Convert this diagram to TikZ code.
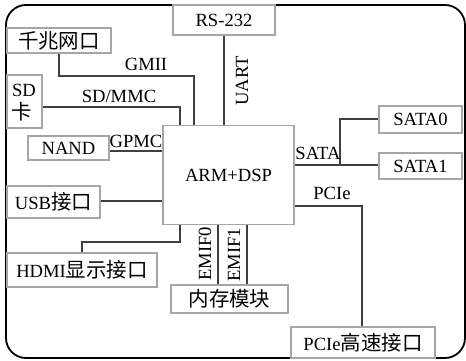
\documentclass[tikz,border=0pt]{standalone}
\usepackage{fontspec}
\setmainfont{Liberation Serif}
\newfontfamily\cjk[Scale=1.1]{Noto Sans CJK SC}
\begin{document}
\begin{tikzpicture}[x=1pt,y=-1pt,
  box/.style={draw=gray!70,line width=1.1pt,fill=white,inner sep=0pt,font=\fontsize{18.6}{20}\selectfont},
  wire/.style={draw=black!75,line width=1.8pt},
  lab/.style={inner sep=0pt,font=\fontsize{18.6}{20}\selectfont}]
\useasboundingbox (0,0) rectangle (466,361);
\draw[line width=1.8pt,rounded corners=20pt] (6,5) rectangle (465,358);
% boxes
\node[box,minimum width=102pt,minimum height=30pt] (rs) at (224,20) {RS-232};
\node[box,minimum width=104pt,minimum height=25pt] (gige) at (59,40.5) {\cjk 千兆网口};
\node[box,minimum width=35pt,minimum height=53pt] (sd) at (24.5,101.5) {};
\node[lab] (sdt1) at (24,90) {SD};
\node[lab] (sdt2) at (22,112) {\cjk 卡};
\node[box,minimum width=81pt,minimum height=24pt] (nand) at (68.5,148) {NAND};
\node[box,minimum width=131pt,minimum height=99pt] (arm) at (228.5,175) {ARM+DSP};
\node[box,minimum width=83pt,minimum height=27pt] (sata0) at (420.5,119.5) {SATA0};
\node[box,minimum width=83pt,minimum height=26pt] (sata1) at (420.5,166) {SATA1};
\node[box,minimum width=93pt,minimum height=32pt] (usb) at (53.5,202) {USB\cjk 接口};
\node[box,minimum width=150pt,minimum height=34pt] (hdmi) at (82,270) {HDMI\cjk 显示接口};
\node[box,minimum width=117pt,minimum height=28pt] (mem) at (229.5,299) {\cjk 内存模块};
\node[box,minimum width=144pt,minimum height=31pt] (pcie) at (363,342.5) {PCIe\cjk 高速接口};
% coordinates
\coordinate (g1) at (59,76);
\coordinate (g2) at (194,76);
\coordinate (s2) at (180,107);
\coordinate (br) at (340,165);
\coordinate (br0) at (340,119);
\coordinate (h1) at (180,242);
\coordinate (h2) at (82,242);
\coordinate (p1) at (362,206);
% wires
\draw[wire] (gige.south -| g1) -- (g1) -- (g2) -- (g2 |- arm.north);
\draw[wire] (sd.east |- s2) -- (s2) -- (s2 |- arm.north);
\draw[wire] (nand.east |- 0,151) -- (arm.west |- 0,151);
\draw[wire] (rs.south) -- (rs.south |- arm.north);
\draw[wire] (arm.east |- br) -- (sata1.west |- br);
\draw[wire] (br) -- (br0) -- (sata0.west |- br0);
\draw[wire] (usb.east |- 0,201) -- (arm.west |- 0,201);
\draw[wire] (h1 |- arm.south) -- (h1) -- (h2) -- (h2 |- hdmi.north);
\draw[wire] (arm.south -| 218,0) -- (mem.north -| 218,0);
\draw[wire] (arm.south -| 247,0) -- (mem.north -| 247,0);
\draw[wire] (arm.east |- p1) -- (p1) -- (p1 |- pcie.north);
% labels
\node[lab] (lgmii) at (146,64) {GMII};
\node[lab] (lsd) at (119,96) {SD/MMC};
\node[lab] (lgpmc) at (136,141) {GPMC};
\node[lab,rotate=90] (luart) at (242,81) {UART};
\node[lab] (lsata) at (318,153) {SATA};
\node[lab] (lpcie) at (332,193) {PCIe};
\node[lab,rotate=90] (le0) at (205,254) {EMIF0};
\node[lab,rotate=90] (le1) at (234,255) {EMIF1};
\end{tikzpicture}
\end{document}
